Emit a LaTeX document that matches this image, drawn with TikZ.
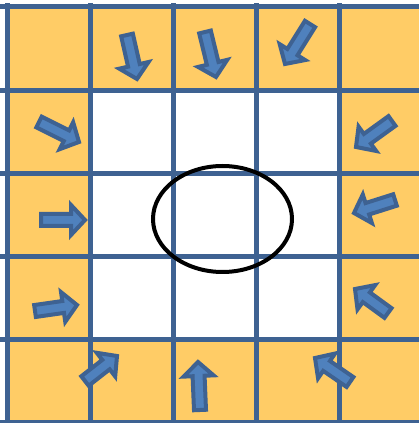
\documentclass[tikz,border=0pt]{standalone}
\usetikzlibrary{calc}
\definecolor{gridblue}{RGB}{62,98,146}
\definecolor{arrowblue}{RGB}{79,129,189}
\definecolor{cellorange}{RGB}{255,204,102}

% block arrow from tail #1 to tip #2
\newcommand{\blockarrow}[2]{%
  \draw[blockarr] let \p1=($(#2)-(#1)$), \n1={atan2(\y1,\x1)}, \n2={veclen(\x1,\y1)-14} in
    ($(#1)+(\n1+90:6)$) -- ($(#1)+(\n1:\n2)+(\n1+90:6)$) -- ($(#1)+(\n1:\n2)+(\n1+90:15)$)
    -- (#2) -- ($(#1)+(\n1:\n2)+(\n1-90:15)$) -- ($(#1)+(\n1:\n2)+(\n1-90:6)$)
    -- ($(#1)+(\n1-90:6)$) -- cycle;}

\begin{document}
\begin{tikzpicture}[x=1pt,y=1pt,
  gridline/.style={gridblue,line width=5pt},
  blockarr/.style={draw=gridblue,fill=arrowblue,line width=4pt,line join=miter}]
  \useasboundingbox (0,0) rectangle (419,423);
  \clip (0,0) rectangle (419,423);
  % cells
  \fill[cellorange] (7,0) rectangle (423,416);
  \fill[white] (90.2,83.2) rectangle (339.8,332.8);
  \foreach \k in {0,...,5} {
    \draw[gridline] (7+83.2*\k,-5) -- (7+83.2*\k,420);
    \draw[gridline] (0,83.2*\k) -- (430,83.2*\k);
  }
  % ellipse
  \coordinate (C) at (222.5,204);
  \draw[black,line width=4pt] (C) ellipse [x radius=69.5,y radius=53];
  % arrows
  \coordinate (a1) at (127,388); \coordinate (b1) at (137,344);
  \coordinate (a2) at (205,391); \coordinate (b2) at (216,346);
  \coordinate (a3) at (310,399); \coordinate (b3) at (285,359);
  \coordinate (a4) at (39,301);  \coordinate (b4) at (79,281);
  \coordinate (a5) at (41,203);  \coordinate (b5) at (85,203);
  \coordinate (a6) at (35,112);  \coordinate (b6) at (77,118);
  \coordinate (a7) at (392,302); \coordinate (b7) at (356,276);
  \coordinate (a8) at (395,223); \coordinate (b8) at (354,210);
  \coordinate (a9) at (388,110); \coordinate (b9) at (355,134);
  \coordinate (a10) at (85,42);  \coordinate (b10) at (117,67);
  \coordinate (a11) at (200,13); \coordinate (b11) at (198,61);
  \coordinate (a12) at (350,41); \coordinate (b12) at (315,65);
  \foreach \i in {1,...,12} {\blockarrow{a\i}{b\i}}
\end{tikzpicture}
\end{document}
